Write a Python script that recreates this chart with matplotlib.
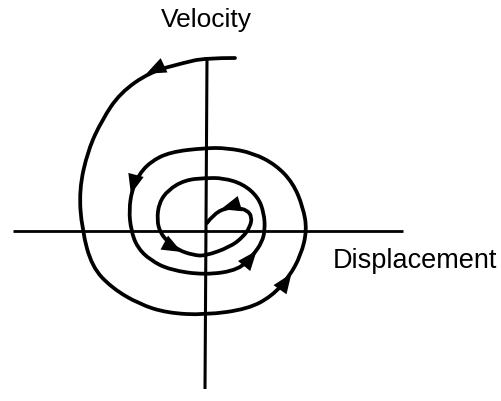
import numpy as np
import matplotlib.pyplot as plt
from matplotlib.path import Path
from matplotlib.patches import PathPatch

plt.rcParams['font.family'] = ['Liberation Sans', 'DejaVu Sans']

# phase trajectory (displacement, velocity)
displacement = [29, -1, -23, -56, -86, -104, -118, -127, -124, -114, -94, -67, -39, -1,
                42, 66, 83, 95, 101, 97, 87, 70, 47, 21, -1, -36, -56, -68, -74, -77,
                -75, -69, -56, -36, -1, 33, 48, 56, 59, 58, 52, 37, 17, -1, -21, -38,
                -47, -49, -46, -39, -28, -13, -1, 24, 37, 44, 46, 41, 31, 19, 7, 1]
velocity = [173, 173, 168, 159, 138, 111, 81, 41, 1, -36, -57, -73, -82, -84,
            -78, -65, -46, -24, 1, 24, 48, 66, 78, 83, 83, 79, 69, 55, 41, 21,
            1, -16, -29, -39, -44, -39, -23, -11, 1, 18, 34, 47, 53, 53, 51, 41,
            28, 11, -1, -10, -19, -24, -25, -16, -6, 4, 14, 21, 23, 23, 16, 8]
# points on the trajectory that carry an arrowhead
arrow_idx = [3, 16, 28, 36, 50, 59]

x_axis = [-193, 197]
y_axis = [173, -158]

fig = plt.figure(figsize=(5.02, 4.01), dpi=100)
ax = fig.add_axes([0, 0, 1, 1])
ax.set_xlim(-206, 296)
ax.set_ylim(-170, 231)
ax.axis('off')

# axes
ax.plot(x_axis, [0, 0], color='black', lw=2.0, solid_capstyle='butt')
ax.plot([1, -1], y_axis, color='black', lw=2.2, solid_capstyle='butt')

# smooth trajectory (quadratic b-spline through the read points)
pts = np.column_stack([displacement, velocity]).astype(float)
verts = [pts[0]]
codes = [Path.MOVETO]
for i in range(1, len(pts) - 2):
    verts += [pts[i], (pts[i] + pts[i + 1]) / 2]
    codes += [Path.CURVE3, Path.CURVE3]
verts += [pts[-2], pts[-1]]
codes += [Path.CURVE3, Path.CURVE3]
ax.add_patch(PathPatch(Path(verts, codes), fill=False, lw=2.7, ec='black',
                       capstyle='round'))

# arrowheads
for i in arrow_idx:
    d = pts[i + 1] - pts[i - 1]
    d = d / np.hypot(*d)
    ax.annotate('', xy=pts[i] + d * 7, xytext=pts[i] - d * 7,
                arrowprops=dict(arrowstyle='-|>,head_length=0.75,head_width=0.3',
                                mutation_scale=19, color='black', lw=0))

ax.text(0, 204, 'Velocity', ha='center', va='baseline', fontsize=19)
ax.text(127, -37, 'Displacement', ha='left', va='baseline', fontsize=19.5)

plt.savefig('out.png', dpi=100)
